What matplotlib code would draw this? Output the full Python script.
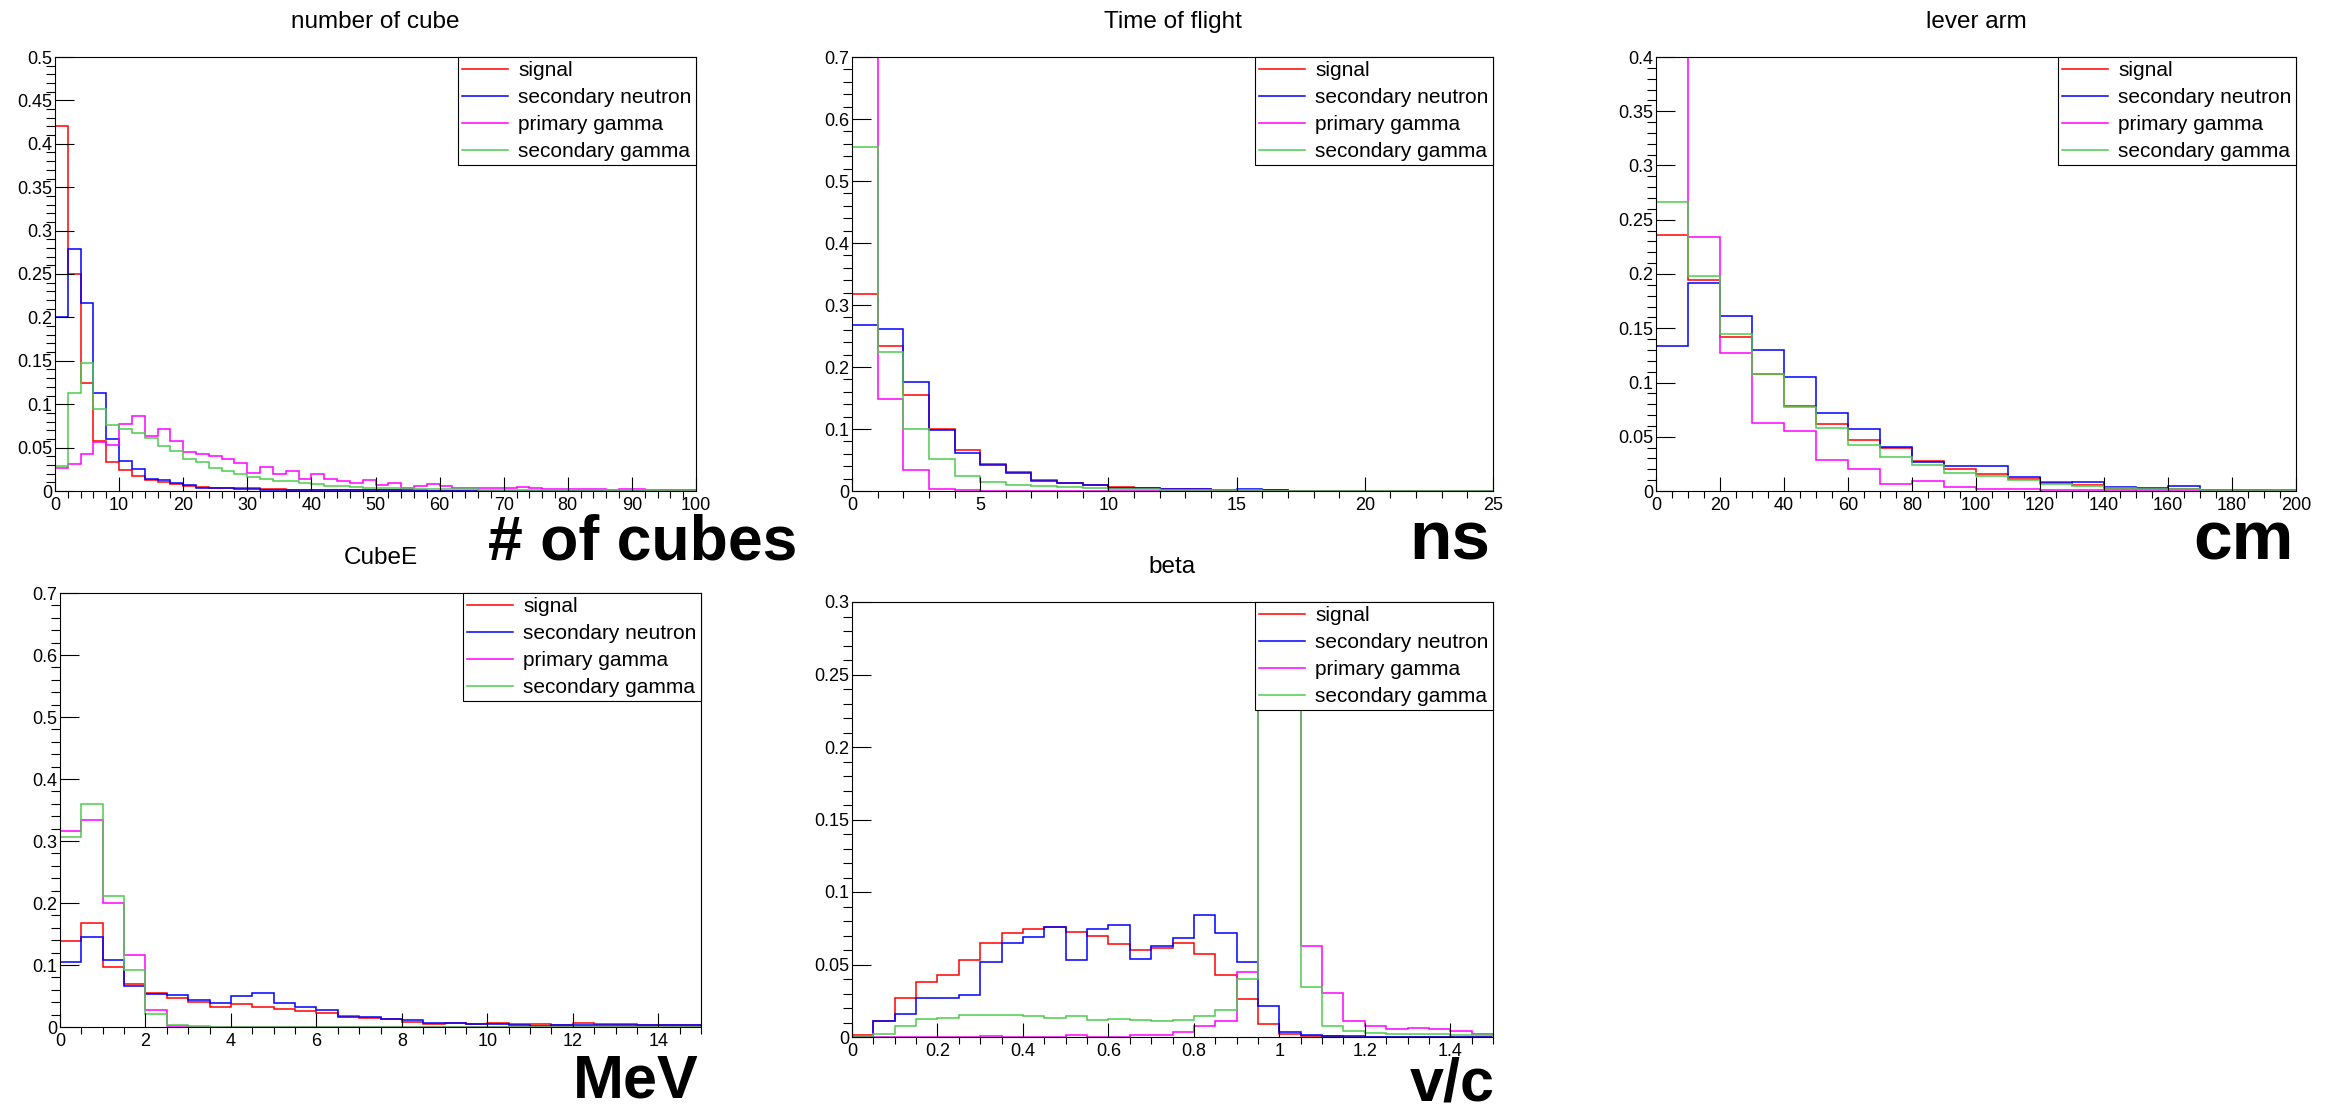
import numpy as np
import matplotlib
matplotlib.use('Agg')
import matplotlib.pyplot as plt
from matplotlib.ticker import MultipleLocator, AutoMinorLocator, FuncFormatter

plt.rcParams['font.family'] = ['Liberation Sans', 'DejaVu Sans']

# ---- data (bin contents) ----
labels = ['signal', 'secondary neutron', 'primary gamma', 'secondary gamma']
colors = ['#ff0000', '#0000ff', '#ff00ff', '#4ccc4c']

# number of cube: 50 bins, 0-100
ncube_edges = np.arange(0, 101, 2)
ncube_signal = [0.421, 0.250, 0.124, 0.058, 0.033, 0.024, 0.017, 0.013, 0.010, 0.008,
                0.0055, 0.0045, 0.004, 0.003, 0.003, 0.003, 0.002, 0.002, 0.0015, 0.0015,
                0.001, 0.001, 0.001, 0.0008, 0.0008, 0.0006, 0.0006, 0.0005, 0.0005, 0.0004,
                0.0004, 0.0003, 0.0003, 0.0003, 0.0002, 0.0002, 0.0002, 0.0002, 0.0001, 0.0001,
                0.0001, 0.0001, 0.0001, 0.0001, 0.0001, 0.0001, 0.0001, 0.0001, 0.0001, 0.0001]
ncube_secn = [0.201, 0.279, 0.217, 0.113, 0.060, 0.035, 0.025, 0.014, 0.013, 0.009,
              0.0073, 0.004, 0.0035, 0.003, 0.002, 0.002, 0.0015, 0.0015, 0.0012, 0.0012,
              0.001, 0.001, 0.001, 0.0008, 0.0008, 0.0007, 0.0007, 0.0006, 0.0006, 0.0005,
              0.0005, 0.0005, 0.0004, 0.0004, 0.0003, 0.0002, 0.0002, 0.0001, 0.0001, 0.0001,
              0, 0, 0, 0, 0, 0, 0, 0, 0, 0]
ncube_primg = [0.0265, 0.0315, 0.043, 0.056, 0.053, 0.0776, 0.086, 0.063, 0.0718, 0.0576,
               0.0445, 0.043, 0.040, 0.0365, 0.032, 0.021, 0.0276, 0.020, 0.023, 0.014,
               0.020, 0.014, 0.012, 0.009, 0.013, 0.007, 0.0095, 0.004, 0.006, 0.0075,
               0.0055, 0.004, 0.004, 0.0035, 0.003, 0.004, 0.0045, 0.003, 0.0025, 0.002,
               0.0025, 0.002, 0.002, 0.0015, 0.002, 0.0025, 0.0015, 0.001, 0.001, 0.0008]
ncube_secg = [0.029, 0.113, 0.148, 0.0945, 0.0757, 0.0718, 0.0668, 0.0614, 0.0518, 0.0457,
              0.0365, 0.0334, 0.0269, 0.023, 0.0192, 0.016, 0.014, 0.012, 0.011, 0.009,
              0.0075, 0.006, 0.0055, 0.0045, 0.004, 0.0035, 0.003, 0.003, 0.0025, 0.0025,
              0.002, 0.002, 0.0018, 0.0016, 0.0015, 0.0014, 0.0012, 0.0012, 0.001, 0.001,
              0.0009, 0.0008, 0.0008, 0.0007, 0.0007, 0.0006, 0.0006, 0.0005, 0.0005, 0.0004]

# time of flight: 25 bins, 0-25 ns
tof_edges = np.arange(0, 26, 1)
tof_signal = [0.318, 0.234, 0.155, 0.100, 0.0656, 0.044, 0.0306, 0.0172, 0.0135, 0.009,
              0.0065, 0.005, 0.0037, 0.0027, 0.002, 0.0015, 0.001, 0.0008, 0.0006, 0.0005,
              0.0004, 0.0003, 0.0003, 0.0002, 0.0002]
tof_secn = [0.268, 0.261, 0.176, 0.0984, 0.0618, 0.0414, 0.0296, 0.0161, 0.0134, 0.0095,
            0.005, 0.0045, 0.003, 0.0025, 0.002, 0.003, 0.001, 0.0008, 0.0007, 0.0006,
            0.0005, 0.0005, 0.0004, 0.0003, 0.0003]
tof_primg = [0.78, 0.149, 0.0344, 0.004, 0.002, 0.0006, 0.0004, 0.0003, 0.0002, 0.0002,
             0.0002, 0.0001, 0.0001, 0.0001, 0.0001, 0, 0, 0, 0, 0,
             0, 0, 0, 0, 0]
tof_secg = [0.555, 0.224, 0.100, 0.051, 0.0247, 0.0145, 0.009, 0.0075, 0.006, 0.0045,
            0.0035, 0.003, 0.002, 0.0015, 0.001, 0.001, 0.0008, 0.0007, 0.0006, 0.0005,
            0.0005, 0.0004, 0.0004, 0.0003, 0.0003]

# lever arm: 20 bins, 0-200 cm
arm_edges = np.arange(0, 201, 10)
arm_signal = [0.2356, 0.1948, 0.142, 0.108, 0.0783, 0.0617, 0.0473, 0.040, 0.0276, 0.0206,
              0.0154, 0.011, 0.0083, 0.0052, 0.003, 0.002, 0.0015, 0.0008, 0.0005, 0.0003]
arm_secn = [0.134, 0.1917, 0.161, 0.130, 0.1048, 0.0719, 0.0568, 0.0406, 0.0264, 0.023,
            0.0233, 0.0129, 0.0077, 0.0083, 0.0037, 0.0028, 0.0046, 0.0012, 0.0012, 0.0005]
arm_primg = [0.50, 0.2338, 0.127, 0.063, 0.0553, 0.0283, 0.0203, 0.0068, 0.0092, 0.0037,
             0.002, 0.0015, 0.0008, 0.0005, 0.0005, 0.0003, 0.0003, 0.0002, 0.0002, 0.0001]
arm_secg = [0.2664, 0.198, 0.1444, 0.1075, 0.0771, 0.0584, 0.0427, 0.0313, 0.0243, 0.0169,
            0.0135, 0.0098, 0.0068, 0.0043, 0.003, 0.002, 0.0015, 0.001, 0.0008, 0.0005]

# CubeE: 30 bins, 0-15 MeV
cubee_edges = np.arange(0, 15.01, 0.5)
cubee_signal = [0.138, 0.1685, 0.097, 0.069, 0.0555, 0.0474, 0.0398, 0.0323, 0.0371, 0.0328,
                0.0285, 0.0258, 0.0226, 0.0172, 0.0145, 0.0124, 0.0081, 0.0048, 0.006, 0.0055,
                0.006, 0.005, 0.0042, 0.0035, 0.006, 0.0055, 0.005, 0.004, 0.0035, 0.003]
cubee_secn = [0.105, 0.1454, 0.1077, 0.0657, 0.0538, 0.0522, 0.043, 0.0388, 0.0495, 0.0555,
              0.0388, 0.0323, 0.0275, 0.0162, 0.0162, 0.0124, 0.0108, 0.0072, 0.006, 0.005,
              0.0045, 0.004, 0.0024, 0.0025, 0.003, 0.0035, 0.0035, 0.004, 0.0035, 0.003]
cubee_primg = [0.316, 0.3338, 0.2003, 0.1168, 0.0275, 0.001, 0.0005, 0.0003, 0.0002, 0.0002,
               0.0001, 0.0001, 0.0001, 0, 0, 0, 0, 0, 0, 0,
               0, 0, 0, 0, 0, 0, 0, 0, 0, 0]
cubee_secg = [0.306, 0.359, 0.2105, 0.0926, 0.0215, 0.0038, 0.001, 0.0003, 0.0002, 0.0002,
              0.0001, 0.0001, 0, 0, 0, 0, 0, 0, 0, 0,
              0, 0, 0, 0, 0, 0, 0, 0, 0, 0]

# beta: 30 bins, 0-1.5
beta_edges = np.arange(0, 1.5001, 0.05)
beta_signal = [0.0013, 0.0108, 0.0266, 0.038, 0.043, 0.0529, 0.065, 0.0714, 0.0743, 0.076,
               0.0722, 0.0700, 0.064, 0.060, 0.0613, 0.0645, 0.0572, 0.043, 0.0261, 0.0089,
               0.0018, 0.0008, 0.0005, 0.0003, 0.0003, 0.0002, 0.0002, 0.0002, 0.0001, 0.0001]
beta_secn = [0.0005, 0.0109, 0.0157, 0.027, 0.027, 0.029, 0.0515, 0.065, 0.0693, 0.0762,
             0.0531, 0.0744, 0.0769, 0.0538, 0.0628, 0.0681, 0.0843, 0.0716, 0.0515, 0.0215,
             0.0032, 0.0014, 0.0007, 0.0005, 0.0003, 0.0003, 0.0002, 0.0002, 0.0002, 0.0001]
beta_primg = [0, 0, 0, 0.0002, 0.0003, 0.0003, 0.0007, 0.0003, 0.0002, 0.0002,
              0.0016, 0.0003, 0.0003, 0.0014, 0.0014, 0.0035, 0.0074, 0.011, 0.0446, 0.48,
              0.35, 0.0628, 0.0305, 0.011, 0.0076, 0.0058, 0.0062, 0.0058, 0.0039, 0.0023]
beta_secg = [0.001, 0.0018, 0.0074, 0.0125, 0.0134, 0.015, 0.0155, 0.015, 0.0145, 0.0134,
             0.0145, 0.0115, 0.0122, 0.0115, 0.0109, 0.0115, 0.0143, 0.0185, 0.040, 0.42,
             0.38, 0.0346, 0.0074, 0.0042, 0.0028, 0.0023, 0.0023, 0.0018, 0.0016, 0.0014]

# ---- figure ----
W, H = 2328, 1105
fig = plt.figure(figsize=(W / 100, H / 100), dpi=100)


def px_axes(left, top, right, bottom):
    return fig.add_axes([left / W, 1 - bottom / H, (right - left) / W, (bottom - top) / H])


fmt = FuncFormatter(lambda v, p: '%g' % round(v, 6))

panels = [
    # title, box (l, t, r, b), edges, series, xmax, ymax, xmajor, xminor, ymajor
    ('number of cube', (55, 57, 696, 491), ncube_edges,
     [ncube_signal, ncube_secn, ncube_primg, ncube_secg], 100, 0.5, 10, 5, 0.05),
    ('Time of flight', (852, 57, 1493, 491), tof_edges,
     [tof_signal, tof_secn, tof_primg, tof_secg], 25, 0.7, 5, 5, 0.1),
    ('lever arm', (1656, 57, 2296, 491), arm_edges,
     [arm_signal, arm_secn, arm_primg, arm_secg], 200, 0.4, 20, 4, 0.05),
    ('CubeE', (60, 593, 701, 1027), cubee_edges,
     [cubee_signal, cubee_secn, cubee_primg, cubee_secg], 15, 0.7, 2, 4, 0.1),
    ('beta', (852, 602, 1493, 1037), beta_edges,
     [beta_signal, beta_secn, beta_primg, beta_secg], 1.5, 0.3, 0.2, 4, 0.05),
]

for title, box, edges, series, xmax, ymax, xmaj, xmin_n, ymaj in panels:
    ax = px_axes(*box)
    for vals, col, lab in zip(series, colors, labels):
        ax.stairs(vals, edges, color=col, lw=1.1, label=lab)
    ax.set_xlim(0, xmax)
    ax.set_ylim(0, ymax)
    ax.xaxis.set_major_locator(MultipleLocator(xmaj))
    ax.xaxis.set_minor_locator(AutoMinorLocator(xmin_n))
    ax.yaxis.set_major_locator(MultipleLocator(ymaj))
    ax.yaxis.set_minor_locator(AutoMinorLocator(5))
    ax.xaxis.set_major_formatter(fmt)
    ax.yaxis.set_major_formatter(fmt)
    ax.tick_params(direction='in', top=False, right=False, labelsize=13, width=0.8)
    ax.tick_params(axis='x', which='major', length=10, pad=4)
    ax.tick_params(axis='x', which='minor', length=4.7, width=0.8)
    ax.tick_params(axis='y', which='major', length=13.5, pad=2)
    ax.tick_params(axis='y', which='minor', length=6.5, width=0.8)
    for sp in ax.spines.values():
        sp.set_linewidth(0.8)
    ax.set_title(title, fontsize=17.5, pad=21)
    leg = ax.legend(loc='upper right', borderaxespad=0, fontsize=15, fancybox=False,
                    edgecolor='black', framealpha=1, handlelength=2.2, handletextpad=0.5,
                    borderpad=0.2, labelspacing=0.38)
    leg.get_frame().set_linewidth(0.8)

# big unit labels added on top of the canvas
units = [('# of cubes', 797, 560, 45), ('ns', 1490, 560, 50), ('cm', 2294, 560, 50),
         ('MeV', 699, 1097, 44), ('v/c', 1495, 1101, 44)]
for txt, xr, yb, size in units:
    fig.text(xr / W, 1 - yb / H, txt, ha='right', va='baseline', fontsize=size,
             fontweight='bold')

fig.savefig('out.png', dpi=100)
